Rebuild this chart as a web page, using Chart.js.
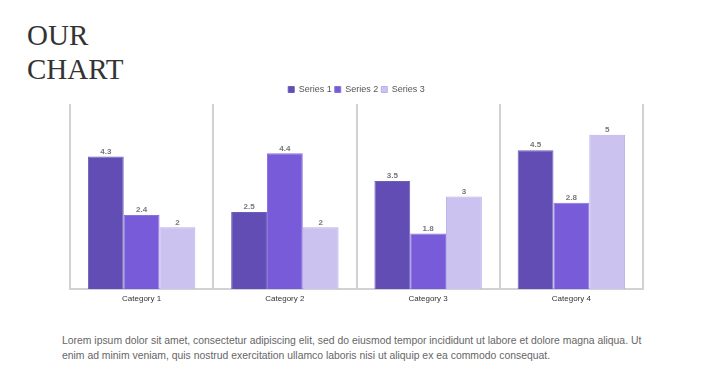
<!DOCTYPE html>
<html><head><meta charset="utf-8">
<script src="https://cdn.jsdelivr.net/npm/chart.js"></script>
<style>
html,body{margin:0;padding:0;background:#fff;width:704px;height:378px;overflow:hidden;position:relative}
#title{position:absolute;left:27px;top:18px;font-family:"Liberation Serif","Times New Roman",serif;font-size:29px;line-height:34px;color:#333}
#wrap{position:absolute;left:0;top:82px;width:704px;height:230px}
#para{position:absolute;left:62px;top:333px;font-family:"Liberation Sans",Arial,sans-serif;font-size:10.4px;line-height:15px;color:#666;white-space:nowrap}
</style></head>
<body>
<div id="title">OUR<br>CHART</div>
<div id="wrap"><canvas id="c" width="704" height="228"></canvas></div>
<div id="para">Lorem ipsum dolor sit amet, consectetur adipiscing elit, sed do eiusmod tempor incididunt ut labore et dolore magna aliqua. Ut<br>enim ad minim veniam, quis nostrud exercitation ullamco laboris nisi ut aliquip ex ea commodo consequat.</div>
<script>
const categories = ["Category 1","Category 2","Category 3","Category 4"];
const series1 = [4.3, 2.5, 3.5, 4.5];
const series2 = [2.4, 4.4, 1.8, 2.8];
const series3 = [2, 2, 3, 5];
const seriesNames = ["Series 1","Series 2","Series 3"];

const valueLabels = {
  id:'valueLabels',
  afterDatasetsDraw(chart){
    const ctx = chart.ctx;
    ctx.save();
    ctx.font = 'bold 8px "Liberation Sans", Arial, sans-serif';
    ctx.fillStyle = '#777';
    ctx.textAlign = 'center';
    ctx.textBaseline = 'bottom';
    chart.data.datasets.forEach((ds,i)=>{
      chart.getDatasetMeta(i).data.forEach((bar,j)=>{
        ctx.fillText(String(ds.data[j]), bar.x, bar.y - 1);
      });
    });
    ctx.restore();
  }
};

new Chart(document.getElementById('c'), {
  type:'bar',
  data:{
    labels:categories,
    datasets:[
      {label:seriesNames[0], data:series1, backgroundColor:'#614db3', borderColor:'#6e5cba', borderWidth:1},
      {label:seriesNames[1], data:series2, backgroundColor:'#775bd9', borderColor:'#8a72dd', borderWidth:1},
      {label:seriesNames[2], data:series3, backgroundColor:'#cbc2f0', borderColor:'#b9aee8', borderWidth:1}
    ]
  },
  options:{
    responsive:false,
    animation:false,
    devicePixelRatio:1,
    layout:{padding:{left:70,right:61,top:0,bottom:1}},
    datasets:{bar:{categoryPercentage:0.75, barPercentage:1}},
    plugins:{
      tooltip:{enabled:false},
      legend:{
        display:true,
        position:'top',
        labels:{boxWidth:6, boxHeight:6, padding:3, color:'#555', font:{size:9, family:'"Liberation Sans", Arial, sans-serif'}}
      }
    },
    scales:{
      x:{
        grid:{display:true, offset:true, color:'#d2d2d2', lineWidth:2, drawTicks:false},
        border:{display:true, color:'#d2d2d2', width:2},
        ticks:{color:'#333', padding:5, font:{size:8, family:'"Liberation Sans", Arial, sans-serif'}},
        afterFit(s){ s.height = 20; }
      },
      y:{display:false, min:0, max:6}
    }
  },
  plugins:[valueLabels]
});
</script>
</body></html>
